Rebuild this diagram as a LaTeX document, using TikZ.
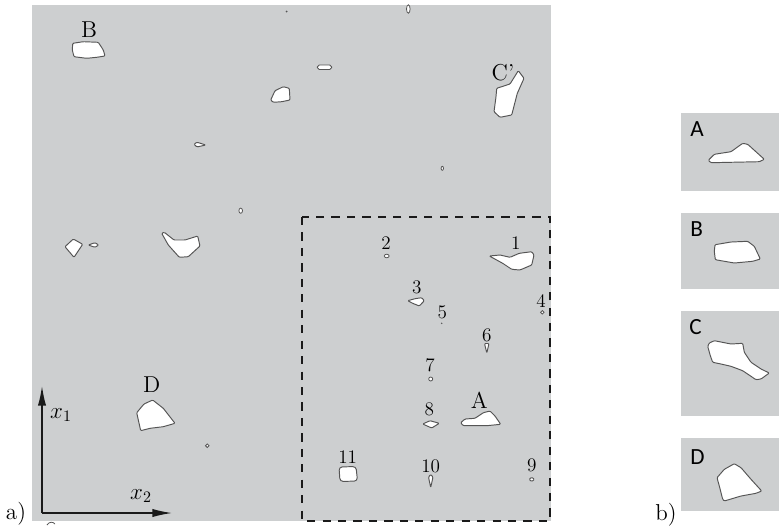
\documentclass[tikz,border=0pt]{standalone}
\usepackage{fontspec}
\newfontfamily\tagfont{Carlito}
\usetikzlibrary{arrows.meta}
\definecolor{cMatrix}{HTML}{CDCFD0}
\definecolor{cEdge}{HTML}{555555}
\definecolor{cFrame}{HTML}{1A1A1A}

\begin{document}
\begin{tikzpicture}[
    x=0.22mm, y=-0.22mm,
    >={Latex[length=4.3mm, width=1.8mm]},
    % Core item styles
    matrixbox/.style={fill=cMatrix, draw=none},
    grain/.style={draw=cEdge, fill=white, line width=0.6pt, line join=round, rounded corners=0.6pt},
    dotgrain/.style={draw=cEdge, fill=white, line width=0.5pt},
    lbl/.style={font=\Large, inner sep=0pt},
    num/.style={font=\large, inner sep=0pt},
    tag/.style={font=\tagfont\fontsize{14.5}{16}\selectfont, inner sep=0pt, anchor=north west},
    % Frame and axis styles
    window/.style={draw=cFrame, line width=0.7pt, dash pattern=on 1.8mm off 1.6mm},
    axis/.style={->, line width=0.8pt, draw=cFrame}
]
\useasboundingbox (0,0) rectangle (779,527);

% --- SAMPLE a) ---
\fill[matrixbox] (32,5) rectangle (551,521);

% Large grains
\draw[grain] (72.7,43.3) -- (83.3,41.7) -- (98.3,42.3) -- (103.3,50) -- (105,56) -- (96.7,57.3) -- (86.7,58.3) -- (74,56.7) -- (72.3,50) -- cycle;
\draw[grain] (270.7,100) -- (275,90.7) -- (283.3,86.7) -- (289.3,88.3) -- (290,100) -- (281.7,101.7) -- (273.3,102.3) -- cycle;
\draw[grain] (496.7,88.3) -- (510,84) -- (518.3,70.7) -- (524,78.3) -- (517.3,93.3) -- (511.7,115) -- (500,117.3) -- (494,111.7) -- (496,96.7) -- cycle;
\draw[grain] (161.7,233.3) -- (164.3,232.3) -- (174,240) -- (185,240) -- (197.7,236) -- (200,246) -- (188.3,256.7) -- (179.3,257.3) -- (168.3,245) -- cycle;
\draw[grain] (65,246.7) -- (73.3,239) -- (82.7,244.3) -- (74,257.3) -- cycle;
\draw[grain] (136.7,412.7) -- (144,404) -- (152.7,400) -- (163.3,408.3) -- (175,423.3) -- (163.3,426.7) -- (150,428.3) -- (140.7,430.7) -- cycle;
\draw[grain] (489.3,256) -- (500,255) -- (510,257.3) -- (519.3,253.3) -- (531.7,251.7) -- (534,255) -- (531.7,265) -- (520,270) -- (511.7,269.3) -- (502.7,263.3) -- cycle;
\draw[grain] (460.7,422.7) -- (465,419) -- (475,418.3) -- (483.3,412.7) -- (490,411) -- (495,416) -- (500.7,424.3) -- (486.7,425.7) -- (463.3,425.7) -- cycle;
\draw[grain, rounded corners=2pt] (339,467) -- (356,466.5) -- (357.5,481) -- (340,481.5) -- cycle;

% Small grains
\draw[grain] (407.7,300.7) -- (415,298.7) -- (421.7,297.7) -- (424.3,300.7) -- (419.3,306) -- (412.7,303.3) -- cycle;
\draw[grain] (422.7,424) -- (430,420.7) -- (439.3,423.3) -- (431.7,428) -- cycle;
\draw[grain] (194,144.3) -- (197,142.2) -- (205.7,145) -- (197,147) -- cycle;
\draw[grain] (88.3,245) -- (95,242.7) -- (98.7,245) -- (95,247.3) -- cycle;
\draw[grain, rounded corners=1.2pt] (317.3,65) rectangle (331.7,69.5);
\draw[grain] (484.5,343.5) -- (489,343.5) -- (486.8,353) -- cycle;
\draw[grain] (428.5,477) -- (430.7,474.5) -- (433,477) -- (430.7,487.5) -- cycle;
\draw[grain] (529,479.3) -- (531.7,477.3) -- (534.5,479.3) -- (531.7,481.5) -- cycle;
\draw[dotgrain] (408.3,9) ellipse [x radius=1.8, y radius=4.2];
\draw[dotgrain] (240.7,210.7) ellipse [x radius=1.8, y radius=2.6];
\draw[dotgrain] (442.3,168.3) ellipse [x radius=1.2, y radius=2];
\draw[dotgrain] (386.7,256) ellipse [x radius=2.4, y radius=1.8];
\draw[dotgrain] (542.3,312.3) ellipse [x radius=1.8, y radius=1.8];
\draw[dotgrain] (430.7,379) ellipse [x radius=2, y radius=2];
\draw[dotgrain] (207.3,445.7) ellipse [x radius=1.8, y radius=1.8];
\fill[cEdge] (286.5,11.5) circle [radius=1];
\fill[cEdge] (441.7,323.3) circle [radius=0.8];
\draw[cEdge, line width=0.5pt] (47,525) .. controls (49,521.5) and (53,521.5) .. (55,524);

% Grain labels
\node[lbl] (labB) at (89,30) {B};
\node[lbl] (labC) at (503,73) {C'};
\node[lbl] (labD) at (151.7,385) {D};
\node[lbl] (labA) at (479.3,400) {A};
\foreach \k/\px/\py in {1/515.7/242.7, 2/386/243.3, 3/416.7/287.3, 4/541/301, 5/442.3/312.7, 6/486.7/335, 7/430/365, 8/429.3/409.3, 9/531.7/465, 10/430.7/466, 11/347.7/456.7} {
    \node[num] (n\k) at (\px,\py) {\k};
}

% Window and axes
\draw[window] (302,217) rectangle (550,521);
\coordinate (origin) at (42,513);
\coordinate (x1tip) at (42,386);
\coordinate (x2tip) at (172,513);
\draw[axis] (origin) -- (x1tip);
\draw[axis] (origin) -- (x2tip);
\node[lbl] (x1lbl) at (61,415) {$x_1$};
\node[lbl] (x2lbl) at (141,496) {$x_2$};
\node[lbl] (parta) at (16,514) {a)};


% --- EXTRACTED GRAINS b) ---
\foreach \ytop/\ybot in {113/191, 213/289, 311/416, 438/511} {
    \fill[matrixbox] (681,\ytop) rectangle (779,\ybot);
}
\node[tag] (tagA) at (690,121) {A};
\node[tag] (tagB) at (690,221) {B};
\node[tag] (tagC) at (689,319) {C};
\node[tag] (tagD) at (690,449) {D};
\draw[grain] (708.3,160.3) -- (714.3,154.3) -- (731,151.7) -- (742.7,143.3) -- (747.7,144.3) -- (764.3,159.3) -- (759.3,161.7) -- (711,162.7) -- cycle;
\draw[grain] (715,244.7) -- (731,242) -- (747.7,241.3) -- (754.3,246.3) -- (760.3,259) -- (752.7,261.3) -- (734.3,263) -- (715.3,259.7) -- (714.3,251.3) -- cycle;
\draw[grain] (707.7,346.3) -- (709.3,343) -- (714.3,340.7) -- (731,344) -- (742.7,343.3) -- (744.3,352.3) -- (751,362.3) -- (761,369) -- (769.3,373) -- (761,379) -- (756,379.7) -- (742.7,370.7) -- (731,366.3) -- (721,364) -- (712.7,362.3) -- (710.3,355.7) -- cycle;
\draw[grain] (717,477.7) -- (724.3,469.3) -- (734.3,463.7) -- (741,467.7) -- (751,479.3) -- (761.7,491) -- (756,493.3) -- (741,496) -- (724.3,501) -- (722.7,499.3) -- (719.3,486) -- cycle;
\node[lbl] (partb) at (666,515) {b)};

\end{tikzpicture}
\end{document}
